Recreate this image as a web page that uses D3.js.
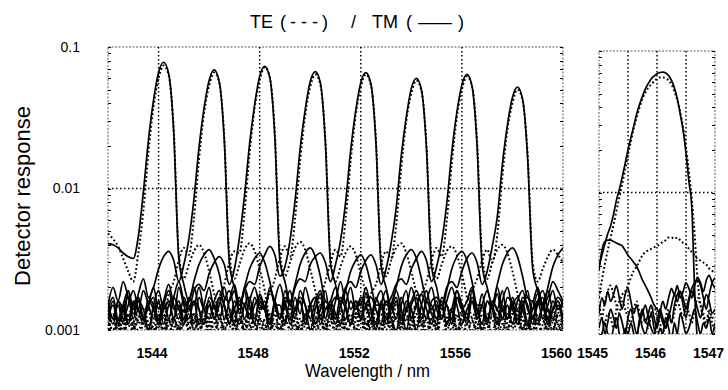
<!DOCTYPE html>
<html>
<head>
<meta charset="utf-8">
<script src="https://cdn.jsdelivr.net/npm/d3@7"></script>
<style>
body { margin: 0; background: #fff; }
svg { display: block; }
text { font-family: "Liberation Sans", Arial, sans-serif; fill: #000; }
</style>
</head>
<body>
<svg id="chart" width="728" height="390"></svg>
<script>
// ---- data (detector response, units of 1e-3) ----
// wide scan: 1542 .. 1560 nm, one sample every 0.2 nm (91 samples)
var wideStart = 1542, wideStep = 0.2, wideCount = 91;
// zoom scan: 1545 .. 1547 nm, one sample every 0.05 nm (41 samples)
var zoomStart = 1545, zoomStep = 0.05, zoomCount = 41;

var xTicksWide = [1544, 1548, 1552, 1556, 1560];
var xTicksZoom = [1545, 1546, 1547];
var xGridWide = [1544, 1548, 1552, 1556];
var xGridZoom = [1545.5, 1546, 1546.5];
var yTicks = [0.001, 0.01, 0.1];
var yTickLabels = ["0.001", "0.01", "0.1"];

// TM (solid), one curve per output channel
var tm1 = [4.1,4.0,3.8,3.5,3.3,3.2,4.6,9.5,22,42,66,78,65,25,3.2,2.1,1.6,2.2,2.9,3.4,3.7,3.2,2.5,1.7,
  1.6,1.9,1.3,2.0,1.5,1.1,1.8,1.4,1.0,1.6, 2.1,1.5,1.2,1.7,1.3,2.0,1.5,1.1,1.4,1.9,
  1.2,1.6,2.2,1.5,1.1,1.5,1.2,1.8,1.4,1.0, 1.5,1.9,1.3,1.6,1.1,1.4,2.0,1.5,1.2,1.6,
  1.3,1.1,1.7,1.5,1.2,1.9,1.4,1.1,1.6,1.3, 1.8,1.2,1.5,1.1,1.6,2.0,1.4,1.2,1.7,1.5,
  1.1,1.6,1.9,1.4,1.2,1.5,1.1];
var tm2 = [1.5,2.0,1.6,2.2,1.7,1.3,1.8,2.3,1.7, 2.0,2.7,3.3,3.6,3.1,2.2,
  2.9,4.4,8.4,19.5,37,58,69,57,22,3.0,2.0,1.5,2.0,2.7,3.2,3.5,3.0,2.2,1.5,
  1.5,1.1,1.6,1.2,1.9,1.5,1.0,1.4,1.8,1.2, 1.6,1.3,1.1,1.5,2.0,1.4,1.6,1.1,1.2,1.7,
  1.4,1.6,1.2,1.0,1.5,1.9,1.2,1.5,1.8,1.4, 1.1,1.5,1.2,1.6,2.0,1.5,1.1,1.4,1.6,1.2,
  1.5,1.9,1.4,1.1,1.5,1.2,1.7,1.4,1.6,1.1, 1.4,1.8,1.5,1.2,1.6,1.4,1.5];
var tm3 = [1.2,1.6,1.1,1.5,1.9,1.4,1.7,1.2,1.5,2.0,1.4,1.6,1.2,1.7,2.2,1.6,1.4,1.9,2.1,
  1.9,2.5,3.0,3.3,2.9,2.1, 2.7,4.5,8.9,20.6,39,62,73,61,23,3.1,2.2,1.6,
  2.1,2.9,3.5,3.8,3.3,2.4,1.6,
  1.5,1.2,1.7,1.4,1.1,1.6,1.5,2.0,1.4,1.1, 1.6,1.2,1.5,1.9,1.4,1.0,1.5,1.7,1.2,1.6,
  2.0,1.4,1.2,1.5,1.1,1.7,1.5,1.2,1.9,1.4, 1.1,1.6,1.4,1.8,1.2,1.5,1.1,1.6,1.9,1.4,
  1.2,1.5,1.7,1.1,1.4,1.6,1.2];
var tm4 = [1.4,1.1,1.6,1.2,1.5,1.9,1.4,1.1,1.7,1.5, 1.2,1.6,2.1,1.5,1.2,1.7,1.4,1.6,1.1,1.5,
  2.0,1.4,1.7,1.2,1.6,2.1,1.5,1.9,2.2,
  2.1,2.8,3.4,3.9,3.4,2.4, 2.8,4.3,8.2,19,36,57,67,56,21,3.0,2.1,1.5,
  1.9,2.6,3.1,3.4,2.9,2.1,1.5,
  1.5,1.1,1.4,1.7,1.2,1.6,1.4,1.0,1.5,1.9, 1.4,1.6,1.2,1.5,1.1,1.7,1.4,1.6,2.0,1.2,
  1.5,1.1,1.6,1.4,1.9,1.2,1.5,1.7,1.4,1.1, 1.6,1.2,1.5,1.9,1.4,1.6,1.2];
var tm5 = [1.2,1.5,1.1,1.4,1.7,1.2,1.6,1.4,1.0,1.5, 1.9,1.4,1.6,1.2,1.5,1.1,1.7,1.5,2.0,1.4,
  1.2,1.6,1.9,1.5,1.1,1.4,1.7,1.2,1.6,2.0, 1.5,1.4,1.9,1.6,1.2,1.7,1.5,2.0,2.3,
  2.2,2.9,3.3,3.5,3.0,2.2, 2.9,4.3,8.0,18.6,35.5,56,66,55,21,2.9,2.0,1.5,
  2.0,2.8,3.4,3.7,3.2,2.3,1.6,
  1.5,1.2,1.6,1.1,1.4,1.9,1.5,1.2,1.7,1.4, 1.1,1.6,1.5,2.0,1.4,1.2,1.6,1.1,1.5,1.7,
  1.4,1.6,1.2,1.5,1.9,1.4,1.6];
var tm6 = [1.6,1.2,1.5,1.1,1.9,1.4,1.6,1.2,1.5,1.7, 1.1,1.4,1.6,1.2,2.0,1.5,1.2,1.6,1.4,1.1,
  1.7,1.5,1.2,1.6,1.9,1.4,1.1,1.5,1.7,1.2, 1.6,1.4,2.0,1.5,1.2,1.6,1.1,1.4,1.7,1.5,
  1.2,1.6,1.9,1.4,1.5,1.7,1.6,2.0,2.2,
  2.0,2.6,3.1,3.4,2.9,2.1, 2.7,4.1,7.3,17,32,51,60,50,19,2.8,2.0,1.4,
  1.9,2.7,3.3,3.6,3.1,2.2,1.5,
  1.5,1.1,1.6,1.4,1.2,1.7,1.5,1.1,1.4,1.9, 1.2,1.6,1.5,1.1,1.4,1.7,1.5];
var tm7 = [1.4,1.7,1.2,1.5,1.1,1.6,1.4,1.9,1.5,1.2, 1.6,1.1,1.5,1.7,1.4,1.2,1.6,2.0,1.4,1.1,
  1.5,1.2,1.7,1.5,1.1,1.6,1.4,1.9,1.2,1.5, 1.7,1.4,1.1,1.6,1.2,1.5,1.9,1.4,1.6,1.2,
  1.5,1.7,1.1,1.4,1.6,2.0,1.5,1.2,1.6,1.4, 1.7,1.5,1.2,1.6,1.9,1.5,1.7,2.1,2.3,
  2.1,2.7,3.2,3.6,3.1,2.2, 2.8,4.2,7.8,18,34.5,54,64,53,20,2.9,2.0,1.5,
  2.1,2.9,3.5,3.8,3.3,2.4,1.7, 1.6,2.0,1.5,1.7,2.2,1.9,1.6];
var tm8 = [1.5,1.2,1.6,1.4,1.1,1.5,1.7,1.2,1.6,1.4, 1.1,1.5,1.9,1.4,1.6,1.2,1.5,1.1,1.7,1.4,
  1.6,1.2,1.5,2.0,1.4,1.1,1.6,1.5,1.2,1.7, 1.4,1.6,1.1,1.5,1.2,1.9,1.5,1.4,1.6,1.1,
  1.5,1.7,1.2,1.6,1.4,1.1,1.5,1.9,1.4,1.6, 1.2,1.5,1.7,1.4,1.1,1.6,1.5,1.2,1.7,1.4,
  1.6,1.9,1.5,1.2,1.6,1.7,1.5,2.0,2.2,
  2.0,2.6,3.2,3.5,3.0,2.1, 2.6,3.9,6.3,14.7,28,44,52,43,16.5,2.7,1.9,1.4, 2.0,2.8,3.4,3.8];

// TE (dotted), one curve per output channel
var te1 = [4.8,4.4,3.9,3.2,2.6,2.2, 3.5,7.0,18,38,60,74,63,26,3.5, 2.3,2.9,3.6,4.0,3.5,2.6,1.8,
  1.3,1.0,0.8,1.2,1.4,1.0,1.1,0.9,1.3,1.5, 1.1,0.8,1.0,1.2,1.4,1.1,0.9,1.3,1.0,1.2,
  1.5,1.1,0.9,1.0,1.3,1.1,0.8,1.2,1.4,1.0, 1.2,0.9,1.1,1.3,1.0,1.5,1.2,0.9,1.1,1.3,
  1.0,1.2,0.8,1.1,1.4,1.2,1.0,1.3,0.9,1.1, 1.2,1.4,1.0,0.9,1.3,1.1,1.2,0.8,1.0,1.3,
  1.5,1.1,1.0,1.2,0.9,1.1,1.4,1.2,1.0];
var te2 = [1.0,1.3,1.1,0.9,1.2,1.5,1.1,1.3,1.0,1.4,1.6,1.2,1.8, 2.2,3.1,3.8,
  3.4,6.2,16,34,53,66,56,23,3.4, 2.3,2.9,3.7,4.1,3.6,2.7,1.9,
  1.2,1.0,1.3,0.9,1.1,1.4,1.0,1.2,0.8,1.1, 1.3,1.0,1.5,1.2,0.9,1.1,1.3,1.0,1.2,1.4,
  0.9,1.1,1.3,1.0,1.2,0.8,1.1,1.4,1.2,1.0, 1.3,0.9,1.1,1.2,1.5,1.0,1.2,0.9,1.3,1.1,
  1.0,1.2,1.4,1.1,0.9,1.2,1.0,1.3,1.1,1.4, 1.0,0.9,1.2,1.1,1.3,1.0,1.2,1.1,0.9];
var te3 = [1.1,0.9,1.2,1.0,1.3,1.1,0.8,1.2,1.4,1.0, 1.1,1.3,0.9,1.2,1.0,1.4,1.1,1.3,1.0,1.2,
  1.5,1.3,1.7, 2.1,3.0,3.6, 3.5,6.8,17.5,37,58,72,61,25,3.5, 2.4,3.0,3.8,4.2,3.7,2.7,1.9,
  1.3,1.0,1.2,0.9,1.1,1.4,1.2,1.0,1.3,0.8, 1.1,1.2,1.0,1.4,1.1,0.9,1.3,1.0,1.2,1.5,
  1.1,0.9,1.2,1.0,1.3,1.1,1.4,1.0,0.8,1.2, 1.1,1.3,1.0,1.2,0.9,1.4,1.1,1.0,1.3,1.2,
  0.9,1.1,1.0,1.3,1.2,1.0,1.4,1.1,1.2];
var te4 = [1.0,1.2,0.9,1.3,1.1,1.0,1.4,1.2,0.9,1.1, 1.3,1.0,1.2,0.8,1.1,1.4,1.0,1.2,1.1,0.9,
  1.3,1.0,1.2,1.4,1.1,0.9,1.2,1.0,1.3,1.1, 1.4,1.5,1.8, 2.3,3.2,3.9,
  3.3,6.1,15.6,33,52,64,54,22,3.3, 2.2,2.8,3.5,3.9,3.4,2.5,1.8,
  1.2,1.0,0.9,1.3,1.1,1.2,1.0,1.4,0.9,1.1, 1.3,1.0,1.2,1.1,0.8,1.2,1.4,1.0,1.1,1.3,
  0.9,1.2,1.0,1.1,1.4,1.2,0.9,1.0,1.3,1.1, 1.2,1.0,1.3,0.9,1.1,1.4,1.2,1.0,1.1];
var te5 = [1.2,1.0,1.1,0.9,1.3,1.0,1.2,1.4,1.1,0.9, 1.2,1.0,1.3,1.1,0.8,1.2,1.0,1.3,1.1,1.4,
  1.0,1.2,0.9,1.1,1.3,1.0,1.2,1.5,1.1,0.9, 1.2,1.0,1.3,1.1,1.0,1.4,1.2,0.9,1.1,1.3,
  1.5,1.4,1.7, 2.2,3.0,3.7, 3.3,6.1,15.6,33,52,64,54,22,3.3, 2.4,3.1,3.8,4.1,3.5,2.6,1.8,
  1.1,1.3,1.0,1.2,0.9,1.1,1.4,1.0,1.2,1.3, 0.9,1.1,1.0,1.3,1.2,1.0,1.4,1.1,0.9,1.2,
  1.0,1.3,1.1,1.2,0.9,1.4,1.1,1.0,1.2];
var te6 = [1.1,1.3,1.0,1.2,0.9,1.1,1.4,1.2,1.0,1.3, 1.1,0.9,1.2,1.0,1.3,1.1,1.4,1.0,1.2,0.9,
  1.1,1.3,1.0,1.2,1.4,1.1,0.9,1.2,1.0,1.3, 1.1,1.0,1.2,1.4,0.9,1.1,1.3,1.0,1.2,1.1,
  1.4,1.0,1.2,0.9,1.1,1.3,1.0,1.2,1.1,1.3, 1.5,1.4,1.8, 2.1,2.9,3.6,
  3.2,5.5,14,30,47,58,49,20,3.2, 2.3,2.9,3.6,3.9,3.4,2.5,1.7,
  1.2,1.0,1.3,1.1,0.9,1.2,1.4,1.0,1.1,1.3, 1.0,1.2,0.9,1.1,1.4,1.2,1.0,1.3,1.1];
var te7 = [1.0,1.2,1.1,0.9,1.3,1.0,1.2,1.4,1.1,1.0, 1.3,0.9,1.1,1.2,1.0,1.4,1.1,1.3,0.9,1.2,
  1.0,1.1,1.3,1.0,1.2,1.4,0.9,1.1,1.3,1.0, 1.2,1.1,0.9,1.3,1.0,1.2,1.4,1.1,1.0,1.3,
  1.2,0.9,1.1,1.0,1.3,1.2,1.4,1.0,1.1,1.3, 0.9,1.2,1.0,1.4,1.1,1.2,1.0,1.3,1.1,1.2,
  1.4,1.5,1.8, 2.2,3.1,3.8, 3.3,5.9,15,32,50,62,53,22,3.3, 2.3,3.0,3.7,4.0,3.5,2.6,1.8,
  1.2,1.0,1.3,1.1,1.4,1.2,1.0,1.3,1.5];
var te8 = [1.1,1.0,1.2,0.9,1.3,1.1,1.0,1.2,1.4,1.0, 1.1,1.3,0.9,1.2,1.0,1.1,1.3,1.0,1.2,1.4,
  1.1,0.9,1.2,1.0,1.3,1.1,1.2,1.0,1.4,1.1, 0.9,1.2,1.3,1.0,1.1,1.2,1.0,1.3,0.9,1.1,
  1.4,1.2,1.0,1.1,1.3,1.0,1.2,0.9,1.1,1.3, 1.2,1.0,1.4,1.1,1.0,1.2,1.3,0.9,1.1,1.2,
  1.0,1.3,1.1,1.2,1.4,1.0,1.2,1.1,1.3,1.2, 1.4,1.6,1.9, 2.3,3.1,3.7,
  3.0,4.7,12,26,40,50,42,17.5,3.0, 2.2,2.7,3.3,3.7,3.4,3.0];

// zoomed channel (right panel)
var zoomTM = [3.0,3.6,4.3,5.1,5.8,7.0,8.8,10.5,12.8,16, 20,24.5,29.5,36,42,48,54,59,63.5,66.5,
  69,70.5,71,70,67,62,55,46,36,27.5, 19,12,7.8,2.0,0.9,0.8,0.9,0.8,0.9,0.8, 0.9];
var zoomTE = [1.8,2.4,3.1,3.9,4.8,5.9,7.4,9.2,11.5,14.5, 18.5,23,28.5,34,40,46,51,55,58,61,
  63.5,65,65,64,62,58,52,45,37,29, 21,14,9,5,2.4,1.6,1.3,1.1,1.4,1.2, 1.0];
var zoomTMside = [2.8,3.9,4.5,4.6,4.6,4.5,4.4,4.3,4.2,3.9, 3.6,3.4,3.2,3.0,2.7,2.4,2.2,2.0,1.8,1.6,
  1.5,1.4,1.2,1.1,1.3,1.6,1.9,1.7,2.0,1.8, 1.5,1.8,2.1,2.3,2.4,2.2,1.8,1.5,1.9,2.3, 2.5];
var zoomTEside = [1.6,1.3,1.2,1.4,1.3,1.1,1.5,1.7,1.9,2.0, 2.2,2.5,2.8,3.0,3.3,3.6,3.8,3.9,4.0,4.1,
  4.2,4.3,4.5,4.6,4.8,4.8,4.7,4.8,4.6,4.4, 4.3,4.0,3.8,3.6,3.4,3.3,3.2,3.1,2.9,2.8, 2.7];
var zoomTMlow1 = [1.4,1.8,1.6,2.0,1.7,1.9,2.2,1.8,1.5,1.9, 2.1,1.7,1.4,1.6,1.3,1.5,1.2,1.4,1.6,1.3,
  1.1,1.4,1.7,1.5,1.8,2.1,1.9,2.2,1.8,2.0, 2.3,2.1,1.8,2.2,2.5,2.3,2.0,2.4,2.6,2.3, 2.1];
var zoomTMlow2 = [1.1,1.3,1.0,1.2,1.5,1.3,1.1,1.4,1.2,1.0, 1.3,1.5,1.2,1.0,1.2,1.4,1.6,1.3,1.1,1.0,
  1.2,1.5,1.3,1.1,1.4,1.2,1.6,1.9,2.0,1.6, 1.3,1.7,2.0,1.8,1.5,1.3,1.6,1.9,1.7,1.4, 1.5];
var zoomTMlow3 = [0.9,1.0,1.2,1.0,0.9,1.1,1.3,1.0,0.8,1.1, 1.0,1.2,1.0,0.9,1.3,1.1,1.0,1.2,1.4,1.1,
  0.9,1.1,1.0,1.3,1.1,0.9,1.2,1.0,1.4,1.2, 1.0,1.1,1.3,1.5,1.2,1.0,1.2,1.1,1.3,1.0, 1.2];
var zoomTElow = [1.5,1.3,1.7,2.0,2.2,1.9,1.6,1.4,1.7,1.5, 1.3,1.2,1.5,1.7,1.4,1.2,1.3,1.1,1.4,1.6,
  1.3,1.2,1.0,1.3,1.5,1.2,1.4,1.7,1.5,1.3, 1.6,1.4,1.2,1.5,1.8,1.6,1.4,1.2,1.5,1.3, 1.4];

// ---- drawing ----
var svg = d3.select("#chart");

var gridWide = d3.range(wideCount).map(function (i) { return wideStart + i * wideStep; });
var gridZoom = d3.range(zoomCount).map(function (i) { return zoomStart + i * zoomStep; });

var xL = d3.scaleLinear().domain([1542, 1560]).range([108, 563]);
var yL = d3.scaleLog().domain([0.001, 0.1]).range([330, 47]);
var xR = d3.scaleLinear().domain([1545, 1547]).range([599, 715]);
var yR = d3.scaleLog().domain([0.001, 0.1]).range([334, 51]);

var defs = svg.append("defs");

function panel(id, x, y, grid, gridX, curves) {
  var x0 = x.range()[0], x1 = x.range()[1], y0 = y.range()[1], y1 = y.range()[0];
  defs.append("clipPath").attr("id", id).append("rect")
    .attr("x", x0).attr("y", y0).attr("width", x1 - x0).attr("height", y1 - y0);

  var g = svg.append("g");

  // frame, a fine dotted line like the original plot
  g.append("rect").attr("x", x0).attr("y", y0).attr("width", x1 - x0).attr("height", y1 - y0)
    .attr("fill", "none").attr("stroke", "#333").attr("stroke-width", 0.8)
    .attr("stroke-dasharray", "2,1.5");

  // minor log ticks on both sides
  y.ticks().forEach(function (t) {
    var yy = Math.round(y(t)) + 0.5;
    g.append("line").attr("x1", x0).attr("x2", x0 + 3).attr("y1", yy).attr("y2", yy)
      .attr("stroke", "#000").attr("stroke-width", 1);
    g.append("line").attr("x1", x1 - 3).attr("x2", x1).attr("y1", yy).attr("y2", yy)
      .attr("stroke", "#000").attr("stroke-width", 1);
  });

  // dotted grid
  gridX.forEach(function (v) {
    g.append("line").attr("x1", x(v)).attr("x2", x(v)).attr("y1", y0).attr("y2", y1)
      .attr("stroke", "#000").attr("stroke-width", 1.5).attr("stroke-dasharray", "1.5,2.5");
  });
  g.append("line").attr("x1", x0).attr("x2", x1).attr("y1", y(0.01)).attr("y2", y(0.01))
    .attr("stroke", "#000").attr("stroke-width", 1.5).attr("stroke-dasharray", "1.5,2.5");

  var line = d3.line()
    .x(function (d, i) { return x(grid[i]); })
    .y(function (d) { return y(d * 1e-3); })
    .curve(d3.curveMonotoneX);

  var cg = g.append("g").attr("clip-path", "url(#" + id + ")");
  curves.forEach(function (c) {
    cg.append("path").datum(c.values)
      .attr("d", line)
      .attr("fill", "none")
      .attr("stroke", "#000")
      .attr("stroke-width", c.te ? 2 : 1.7)
      .attr("stroke-dasharray", c.te ? "1.8,2.4" : null)
      .attr("stroke-linejoin", "round");
  });
}

panel("clipWide", xL, yL, gridWide, xGridWide, [
  { values: te1, te: true }, { values: te2, te: true }, { values: te3, te: true }, { values: te4, te: true },
  { values: te5, te: true }, { values: te6, te: true }, { values: te7, te: true }, { values: te8, te: true },
  { values: tm1 }, { values: tm2 }, { values: tm3 }, { values: tm4 },
  { values: tm5 }, { values: tm6 }, { values: tm7 }, { values: tm8 }
]);

panel("clipZoom", xR, yR, gridZoom, xGridZoom, [
  { values: zoomTE, te: true }, { values: zoomTEside, te: true }, { values: zoomTElow, te: true },
  { values: zoomTM }, { values: zoomTMside }, { values: zoomTMlow1 }, { values: zoomTMlow2 }, { values: zoomTMlow3 }
]);

// x tick labels
function xLabels(x, ticks) {
  svg.append("g").attr("transform", "translate(0,348)")
    .call(d3.axisBottom(x).tickValues(ticks).tickSize(0).tickPadding(0).tickFormat(d3.format("d")))
    .call(function (g) { g.select(".domain").remove(); })
    .selectAll("text")
    .attr("dx", -7)
    .style("font-family", "'Liberation Sans', Arial, sans-serif")
    .style("font-size", "14px").style("font-weight", "bold");
}
xLabels(xL, xTicksWide);
xLabels(xR, xTicksZoom);

// y tick labels
svg.append("g").attr("transform", "translate(80,0)")
  .call(d3.axisLeft(yL).tickValues(yTicks).tickSize(0).tickPadding(0)
    .tickFormat(function (d, i) { return yTickLabels[i]; }))
  .call(function (g) { g.select(".domain").remove(); })
  .selectAll("text")
  .style("font-family", "'Liberation Sans', Arial, sans-serif")
  .style("font-size", "14px");

// title, spaced out like the original
var title = svg.append("text").attr("y", 28).style("font-size", "18px");
[["TE", 250], ["(", 280], ["-", 290], ["-", 301], ["-", 312], [")", 322], ["/", 351],
 ["TM", 372], ["(", 406], [")", 458]].forEach(function (p) {
  title.append("tspan").attr("x", p[1]).text(p[0]);
});
svg.append("text").attr("x", 418).attr("y", 28).style("font-size", "18px")
  .attr("textLength", 34).attr("lengthAdjust", "spacingAndGlyphs").text("\u2014");

svg.append("text").attr("x", 305).attr("y", 377)
  .attr("textLength", 125).attr("lengthAdjust", "spacingAndGlyphs")
  .style("font-size", "18px").text("Wavelength / nm");

svg.append("text").attr("transform", "translate(30,196) rotate(-90)").attr("text-anchor", "middle")
  .style("font-size", "22px").text("Detector response");
</script>
</body>
</html>
